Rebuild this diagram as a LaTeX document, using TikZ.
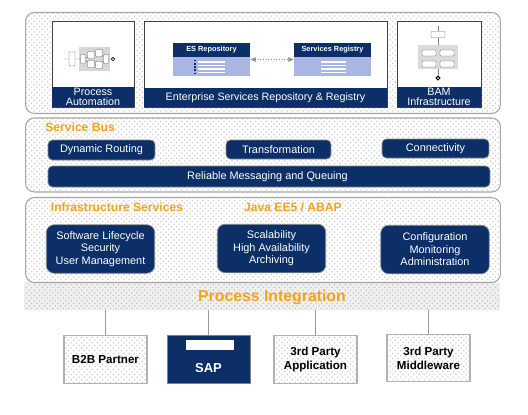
\documentclass[tikz,border=0pt]{standalone}
\usepackage{fontspec}
\setmainfont{Liberation Sans}
\usetikzlibrary{patterns, arrows.meta, positioning}
\definecolor{sapnavy}{HTML}{0B2F66}
\definecolor{saporange}{HTML}{F2A31B}
\definecolor{saplav}{HTML}{A9B5E2}
\tikzset{
  panel/.style={rectangle, rounded corners=5pt, draw=black!35, line width=0.6pt, pattern=crosshatch dots, pattern color=black!18},
  card/.style={rectangle, draw=black!75, line width=0.5pt, fill=white, inner sep=0pt},
  capbar/.style={rectangle, fill=sapnavy, text=white, align=center, inner sep=0pt, font=\fontsize{6.1}{5.8}\selectfont},
  bluebtn/.style={rectangle, rounded corners=2.5pt, draw=black!45, line width=0.4pt, fill=sapnavy, text=white, align=center, inner sep=0pt, font=\fontsize{6.2}{7.1}\selectfont},
  bigbtn/.style={bluebtn, rounded corners=4.5pt, minimum width=2.17cm, minimum height=0.97cm},
  headtxt/.style={text=saporange, font=\fontsize{6.9}{8}\selectfont\bfseries, inner sep=0pt},
  extbox/.style={rectangle, draw=black!30, line width=0.7pt, pattern=crosshatch dots, pattern color=black!18, minimum width=1.66cm, minimum height=0.95cm, align=center, inner sep=0pt, font=\fontsize{6.6}{8}\selectfont\bfseries},
  wire/.style={draw=black!40, line width=0.5pt},
  tinybox/.style={rectangle, rounded corners=0.5pt, draw=black!60, line width=0.25pt, fill=white, inner sep=0pt}
}
\begin{document}
\begin{tikzpicture}[x=0.02cm, y=-0.02cm]
    \useasboundingbox (0,0) rectangle (528,414);

    % Bands
    \node[rectangle, preaction={fill=black!6}, pattern=crosshatch dots, pattern color=black!22, minimum width=9.52cm, minimum height=0.56cm, inner sep=0pt] (band) at (262,296) {};
    \node[text=saporange, font=\fontsize{9}{10}\selectfont\bfseries, inner sep=0pt] (pi) at (272,297) {Process Integration};

    \foreach \name/\x/\y/\w/\h in {toppanel/263/63/9.5cm/2.02cm, buspanel/263/155/9.5cm/1.48cm, infrapanel/263/240/9.5cm/1.7cm} {
        \node[panel, preaction={fill=white}, minimum width=\w, minimum height=\h] (\name) at (\x,\y) {};
    }

    % Top cards
    \node[card, minimum width=1.64cm, minimum height=1.72cm] (automation) at (93,64) {};
    \node[capbar, minimum width=1.64cm, minimum height=0.4cm] (automationcap) at (93,97) {Process\\Automation};
    \node[card, minimum width=4.86cm, minimum height=1.72cm] (esr) at (265.5,64) {};
    \node[capbar, minimum width=4.86cm, minimum height=0.38cm] (esrcap) at (265.5,97.5) {Enterprise Services Repository \& Registry};
    \node[card, minimum width=1.68cm, minimum height=1.72cm] (bam) at (439,64) {};
    \node[capbar, minimum width=1.68cm, minimum height=0.4cm] (bamcap) at (439,97) {BAM\\Infrastructure};

    % Repositories
    \foreach \name/\x/\txt in {repo/211.5/ES Repository, registry/332.5/Services Registry} {
        \node[rectangle, fill=saplav, minimum width=1.54cm, minimum height=0.66cm, inner sep=0pt] (\name) at (\x,59.5) {};
        \node[rectangle, fill=sapnavy, text=white, minimum width=1.54cm, minimum height=0.28cm, inner sep=0pt, font=\fontsize{4.2}{5}\selectfont\bfseries] (\name head) at (\x,50) {\txt};
    }
    \foreach \y in {62,65.5,69,72.5} {
        \draw[white, line width=1.1pt] (198,\y) -- (225,\y);
        \draw[white, line width=1.1pt] (321,\y) -- (346,\y);
    }
    \draw[sapnavy, line width=0.8pt, densely dotted] (195,60) -- (195,75);
    \draw[black!45, densely dotted, line width=0.5pt, {Latex[length=3pt,width=3pt]}-{Latex[length=3pt,width=3pt]}] (repo.east) -- (registry.west);

    % Process icon
    \node[rectangle, fill=black!16, minimum width=0.62cm, minimum height=0.48cm, inner sep=0pt] (flowbg) at (94.5,59) {};
    \node[tinybox, minimum width=0.12cm, minimum height=0.28cm] (flowstart) at (72,59) {};
    \node[tinybox, minimum width=0.1cm, minimum height=0.18cm] (flowa) at (83,59) {};
    \node[tinybox, minimum width=0.14cm, minimum height=0.14cm] (flowb) at (91,55) {};
    \node[tinybox, minimum width=0.14cm, minimum height=0.14cm] (flowc) at (99,53) {};
    \node[tinybox, minimum width=0.14cm, minimum height=0.14cm] (flowd) at (91,64) {};
    \node[tinybox, minimum width=0.14cm, minimum height=0.14cm] (flowe) at (99,65) {};
    \node[tinybox, minimum width=0.1cm, minimum height=0.18cm] (flowf) at (106,59) {};
    \node[circle, draw=black, line width=0.4pt, fill=white, inner sep=0.7pt] (flowend) at (113,59) {};
    \coordinate (flowin) at (64,59);
    \draw[black!60, line width=0.25pt] (flowin) -- (flowstart) (flowstart) -- (flowa) (flowa) -- (flowb) (flowa) -- (flowd) (flowb) -- (flowc) (flowd) -- (flowe) (flowc) -- (flowf) (flowe) -- (flowf) (flowf) -- (flowend);

    % BAM icon
    \node[tinybox, minimum width=0.28cm, minimum height=0.12cm] (bamtop) at (438,34.5) {};
    \node[rectangle, fill=black!14, minimum width=0.82cm, minimum height=0.48cm, inner sep=0pt] (bambg) at (438,57) {};
    \foreach \name/\x/\y in {bama/429/53, bamb/447/53, bamc/429/64, bamd/447/64} {
        \node[tinybox, minimum width=0.28cm, minimum height=0.12cm] (\name) at (\x,\y) {};
    }
    \node[circle, draw=black, line width=0.6pt, fill=white, inner sep=0.8pt] (bamend) at (438,78) {};
    \coordinate (bamin) at (438,26);
    \draw[black!50, line width=0.4pt] (bamin) -- (bamtop) (bamtop) -- (bambg) (bambg) -- (bamend);

    % Service Bus
    \node[headtxt, anchor=west] (bushead) at (45,127) {Service Bus};
    \foreach \name/\x/\y/\w/\h/\txt in {
        routing/101.5/150/2.14cm/0.4cm/Dynamic Routing,
        transform/278.5/149.5/2.1cm/0.38cm/Transformation,
        connect/435.5/148.5/2.14cm/0.38cm/Connectivity,
        queuing/269/176.5/8.84cm/0.42cm/Reliable Messaging and Queuing
    } {
        \node[bluebtn, minimum width=\w, minimum height=\h] (\name) at (\x,\y) {\txt};
    }

    % Infrastructure
    \node[headtxt] (infrahead) at (117,207) {Infrastructure Services};
    \node[headtxt] (javahead) at (293,207) {Java EE5 / ABAP};
    \node[bigbtn] (lifecycle) at (100.5,249) {Software Lifecycle\\Security\\User Management};
    \node[bigbtn] (scaling) at (271.5,248.5) {Scalability\\High Availability\\Archiving};
    \node[bigbtn] (config) at (435,249.5) {Configuration\\Monitoring\\Administration};

    % Systems
    \node[extbox] (b2b) at (105.5,359.5) {B2B Partner};
    \node[extbox] (third) at (315.5,359.5) {3rd Party\\Application};
    \node[extbox] (middle) at (428.5,358) {3rd Party\\Middleware};
    \node[rectangle, draw=black!50, line width=0.4pt, fill=sapnavy, minimum width=1.66cm, minimum height=0.96cm, inner sep=0pt] (sap) at (208.5,359) {};
    \node[text=white, font=\fontsize{7.4}{8}\selectfont\bfseries, inner sep=0pt] (saptxt) at (208.5,368) {SAP};
    \node[rectangle, fill=white, minimum width=0.96cm, minimum height=0.19cm, inner sep=0pt] (sapbar) at (210,345) {};

    \foreach \name in {b2b, third, middle, sap} {
        \draw[wire] (\name.north) -- (\name.north |- band.south);
    }
\end{tikzpicture}
\end{document}
